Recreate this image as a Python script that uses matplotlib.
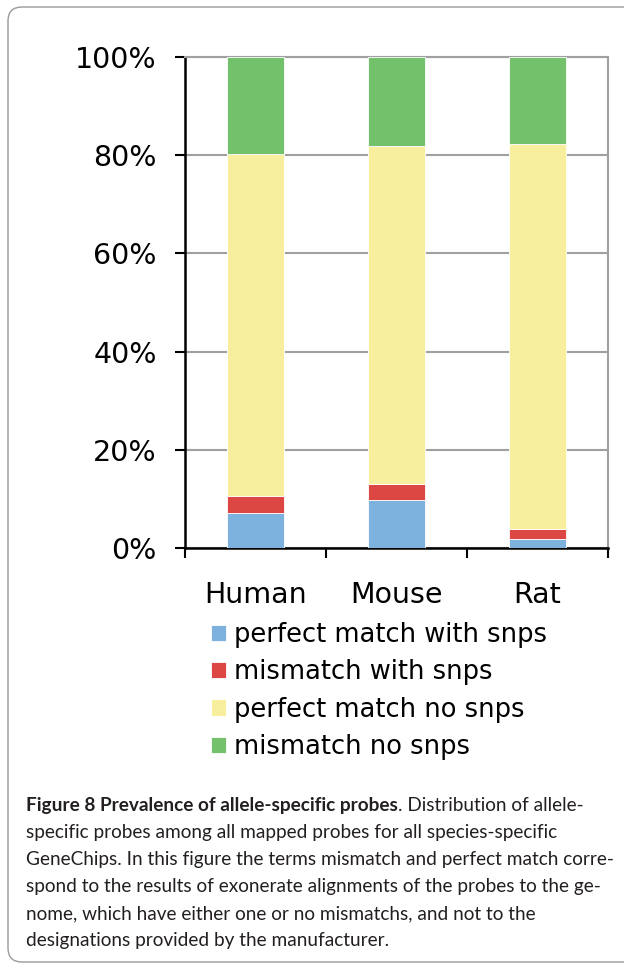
import matplotlib
matplotlib.use('Agg')
import matplotlib.pyplot as plt
from matplotlib.patches import FancyBboxPatch
from matplotlib.ticker import FixedLocator

# Data (percent of mapped probes)
species = ['Human', 'Mouse', 'Rat']
series_names = ['perfect match with snps', 'mismatch with snps',
                'perfect match no snps', 'mismatch no snps']
pm_with_snps = [7.2, 9.7, 1.9]
mm_with_snps = [3.3, 3.3, 2.0]
pm_no_snps = [69.7, 68.8, 78.3]
mm_no_snps = [19.8, 18.2, 17.8]
y_ticks = [0, 20, 40, 60, 80, 100]

series_values = [pm_with_snps, mm_with_snps, pm_no_snps, mm_no_snps]
colors = ['#7DB2DE', '#DD4743', '#F7EF9E', '#73C16B']

caption_lines = [
    [('Figure 8 Prevalence of allele-specific probes', 'bold'), ('. Distribution of allele-', 'normal')],
    [('specific probes among all mapped probes for all species-specific', 'normal')],
    [('GeneChips. In this figure the terms mismatch and perfect match corre-', 'normal')],
    [('spond to the results of exonerate alignments of the probes to the ge-', 'normal')],
    [('nome, which have either one or no mismatchs, and not to the', 'normal')],
    [('designations provided by the manufacturer.', 'normal')],
]

W, H = 624, 965
fig = plt.figure(figsize=(W / 100, H / 100), dpi=100)
plt.rcParams['font.family'] = ['DejaVu Sans']

# axes placed in pixel terms
ax_l, ax_r, ax_t, ax_b = 185, 608, 57, 548
ax = fig.add_axes([ax_l / W, 1 - ax_b / H, (ax_r - ax_l) / W, (ax_b - ax_t) / H])

x = list(range(len(species)))
bottom = [0.0] * len(species)
for name, vals, col in zip(series_names, series_values, colors):
    ax.bar(x, vals, width=0.4, bottom=bottom, color=col, label=name,
           edgecolor='white', linewidth=0.6, zorder=3)
    bottom = [b + v for b, v in zip(bottom, vals)]

ax.set_xlim(-0.5, len(species) - 0.5)
ax.set_ylim(0, 100)
ax.set_yticks(y_ticks)
ax.set_yticklabels([f'{t}%' for t in y_ticks], fontsize=20.5)
ax.yaxis.grid(True, color='#A0A0A0', linewidth=1.5, zorder=1)
ax.tick_params(axis='y', direction='out', length=7.2, width=1.5, pad=13, colors='black')

# category labels on minor ticks, tick marks at category boundaries
ax.xaxis.set_major_locator(FixedLocator([i - 0.5 for i in range(len(species) + 1)]))
ax.xaxis.set_minor_locator(FixedLocator(x))
ax.set_xticklabels([], minor=False)
ax.set_xticklabels(species, minor=True, fontsize=20.5)
ax.tick_params(axis='x', which='major', direction='out', length=7, width=1.5)
ax.tick_params(axis='x', which='minor', length=0, pad=24)

for side in ['left', 'bottom']:
    ax.spines[side].set_color('black')
    ax.spines[side].set_linewidth(1.8)
for side in ['right', 'top']:
    ax.spines[side].set_color('#A0A0A0')
    ax.spines[side].set_linewidth(1.5)

fig.legend(loc='upper left', bbox_to_anchor=(211 / W, 1 - 622 / H),
           frameon=False, fontsize=18.5, handlelength=0.6, handleheight=0.6,
           handletextpad=0.3, labelspacing=0.44, borderpad=0, borderaxespad=0)

# outer rounded frame (runs off the right edge)
frame = FancyBboxPatch((8, H - 962), 700, 955, boxstyle='round,pad=0,rounding_size=14',
                       transform=None, facecolor='none', edgecolor='#999999', linewidth=1.0)
fig.add_artist(frame)

# caption
renderer = fig.canvas.get_renderer()
cap_x = 26
baselines = [811, 838, 865, 892, 919, 946]
for parts, yb in zip(caption_lines, baselines):
    xpos = cap_x
    for txt, wt in parts:
        t = fig.text(xpos / W, 1 - yb / H, txt, fontsize=13.7, fontweight=wt,
                     family='Lato', color='#231F20', va='baseline', ha='left')
        xpos += t.get_window_extent(renderer=renderer).width

fig.savefig('out.png', dpi=100)
